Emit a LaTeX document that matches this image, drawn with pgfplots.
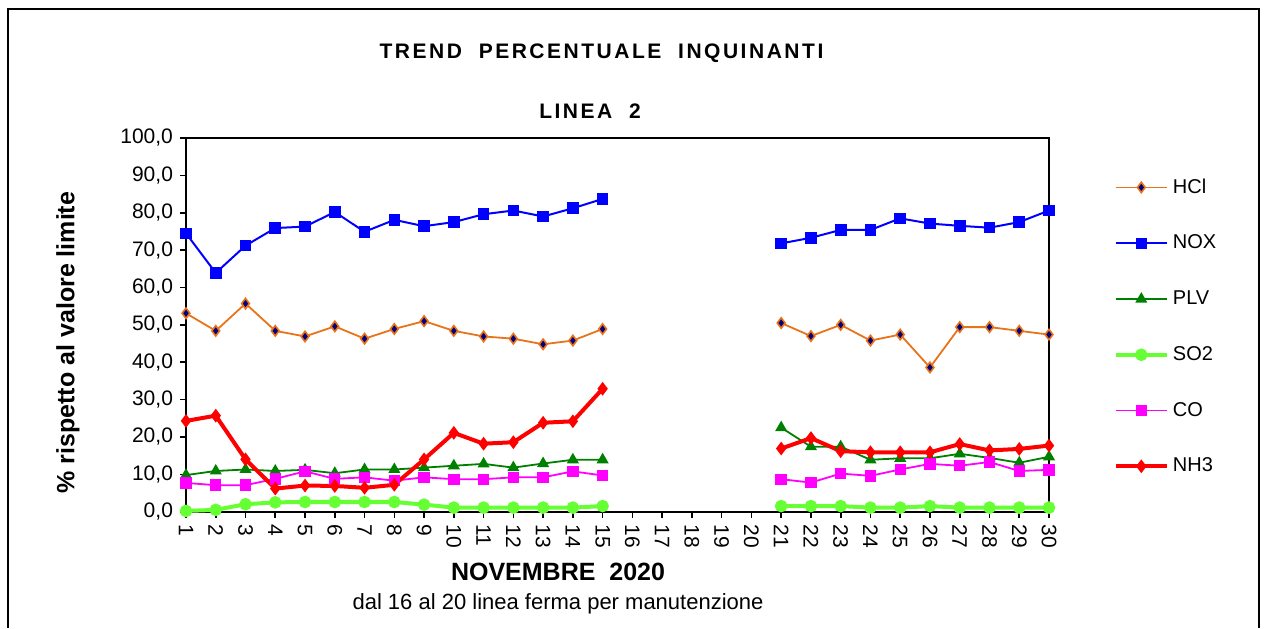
\documentclass[border=0pt]{standalone}
\usepackage{pgfplots}
\pgfplotsset{compat=1.18}
\usepackage{pgfplotstable}
\usepackage{fontspec}
\setmainfont{Liberation Sans}
\definecolor{hclor}{RGB}{232,115,25}
\definecolor{navyc}{RGB}{0,0,128}
\definecolor{noxb}{RGB}{0,0,255}
\definecolor{plvg}{RGB}{0,128,0}
\definecolor{so2g}{RGB}{102,255,51}
\definecolor{com}{RGB}{255,0,255}
\definecolor{nhr}{RGB}{255,0,0}
\pgfplotstableread{
day HCl NOX PLV SO2 CO NH3
1 53.1 74.5 9.8 0.2 7.7 24.3
2 48.4 63.9 10.9 0.5 7.1 25.7
3 55.7 71.2 11.3 2.0 7.1 14.0
4 48.4 75.9 10.9 2.5 8.8 6.2
5 46.9 76.3 11.2 2.6 10.8 7.0
6 49.6 80.2 10.3 2.6 8.8 6.9
7 46.3 74.9 11.3 2.6 9.2 6.4
8 48.9 78.1 11.3 2.6 8.3 7.2
9 51.0 76.4 11.8 1.9 9.2 14.0
10 48.4 77.5 12.3 1.1 8.7 21.1
11 46.9 79.6 12.8 1.1 8.7 18.2
12 46.3 80.6 11.8 1.1 9.2 18.6
13 44.8 79.0 12.9 1.1 9.2 23.8
14 45.8 81.2 13.9 1.1 10.8 24.2
15 48.9 83.7 13.9 1.5 9.7 32.9
16 nan nan nan nan nan nan
17 nan nan nan nan nan nan
18 nan nan nan nan nan nan
19 nan nan nan nan nan nan
20 nan nan nan nan nan nan
21 50.5 71.8 22.5 1.5 8.7 16.9
22 47.0 73.3 17.4 1.5 7.8 19.7
23 50.0 75.4 17.4 1.5 10.2 16.2
24 45.8 75.4 13.9 1.1 9.6 15.9
25 47.4 78.5 14.3 1.1 11.3 15.9
26 38.6 77.1 14.3 1.5 12.8 15.9
27 49.4 76.5 15.5 1.1 12.3 18.1
28 49.4 76.0 14.4 1.1 13.3 16.4
29 48.4 77.5 13.1 1.1 10.9 16.8
30 47.4 80.6 14.7 1.1 11.2 17.7
}\datatab
\begin{document}
\begin{tikzpicture}
\useasboundingbox (0pt,0pt) rectangle (633.5pt,-314pt);
\draw[line width=1pt] (4pt,-314pt) -- (4pt,-4.5pt) -- (629.5pt,-4.5pt) -- (629.5pt,-314pt);
\begin{axis}[
  at={(93pt,-255.85pt)}, anchor=south west,
  scale only axis, width=431.5pt, height=186.85pt,
  xmin=1, xmax=30, ymin=0, ymax=100,
  xtick={1,...,30}, ytick={0,10,...,100},
  xtick pos=left, ytick pos=left,
  tick align=outside, major tick length=3pt,
  axis line style={line width=0.9pt},
  every tick/.style={black, line width=0.8pt},
  clip=false,
  unbounded coords=jump,
  yticklabel style={font=\fontsize{10.5}{12}\selectfont, /pgf/number format/.cd, fixed, fixed zerofill, precision=1, use comma, assume math mode=true},
  xticklabel style={font=\fontsize{10.5}{12}\selectfont, rotate=-90, anchor=west, /pgf/number format/assume math mode=true},
  legend style={at={(1.0745,0.495)}, anchor=west, draw=none, fill=none, inner xsep=0pt,
    font=\fontsize{10}{12}\selectfont, row sep=15.4pt, cells={anchor=west}},
  legend image code/.code={\draw[mark repeat=2,mark phase=2] plot coordinates {(0cm,0cm)(0.45cm,0cm)(0.9cm,0cm)};},
]
\addplot[color=hclor, line width=0.9pt, mark=diamond*, mark size=2.6pt, mark options={fill=navyc, draw=hclor, line width=0.8pt}] table[x=day,y=HCl]{\datatab};
\addlegendentry{HCl}
\addplot[color=noxb, line width=1pt, mark=square*, mark size=2.4pt, mark options={fill=noxb}] table[x=day,y=NOX]{\datatab};
\addlegendentry{NOX}
\addplot[color=plvg, line width=0.9pt, mark=triangle*, mark size=2.6pt, mark options={fill=plvg}] table[x=day,y=PLV]{\datatab};
\addlegendentry{PLV}
\addplot[color=so2g, line width=2pt, mark=*, mark size=2.1pt, mark options={fill=so2g}] table[x=day,y=SO2]{\datatab};
\addlegendentry{SO2}
\addplot[color=com, line width=0.9pt, mark=square*, mark size=2.4pt, mark options={fill=com}] table[x=day,y=CO]{\datatab};
\addlegendentry{CO}
\addplot[color=nhr, line width=2pt, mark=diamond*, mark size=1.8pt, mark options={fill=nhr}] table[x=day,y=NH3]{\datatab};
\addlegendentry{NH3}
\end{axis}
\node[font=\bfseries\fontsize{10.5}{12}\selectfont\addfontfeature{LetterSpace=12}] at (300.75pt,-26.5pt) {TREND\ \ PERCENTUALE\ \ INQUINANTI};
\node[font=\bfseries\fontsize{10.5}{12}\selectfont\addfontfeature{LetterSpace=12}] at (295pt,-55.5pt) {LINEA\ \ 2};
\node[font=\bfseries\fontsize{12.5}{14}\selectfont] at (279pt,-286pt) {NOVEMBRE\ \ 2020};
\node[font=\fontsize{11}{13}\selectfont] at (279pt,-302pt) {dal 16 al 20 linea ferma per manutenzione};
\node[font=\bfseries\fontsize{12.5}{14}\selectfont, rotate=90] at (34pt,-171.25pt) {\% rispetto al valore limite};
\end{tikzpicture}
\end{document}
